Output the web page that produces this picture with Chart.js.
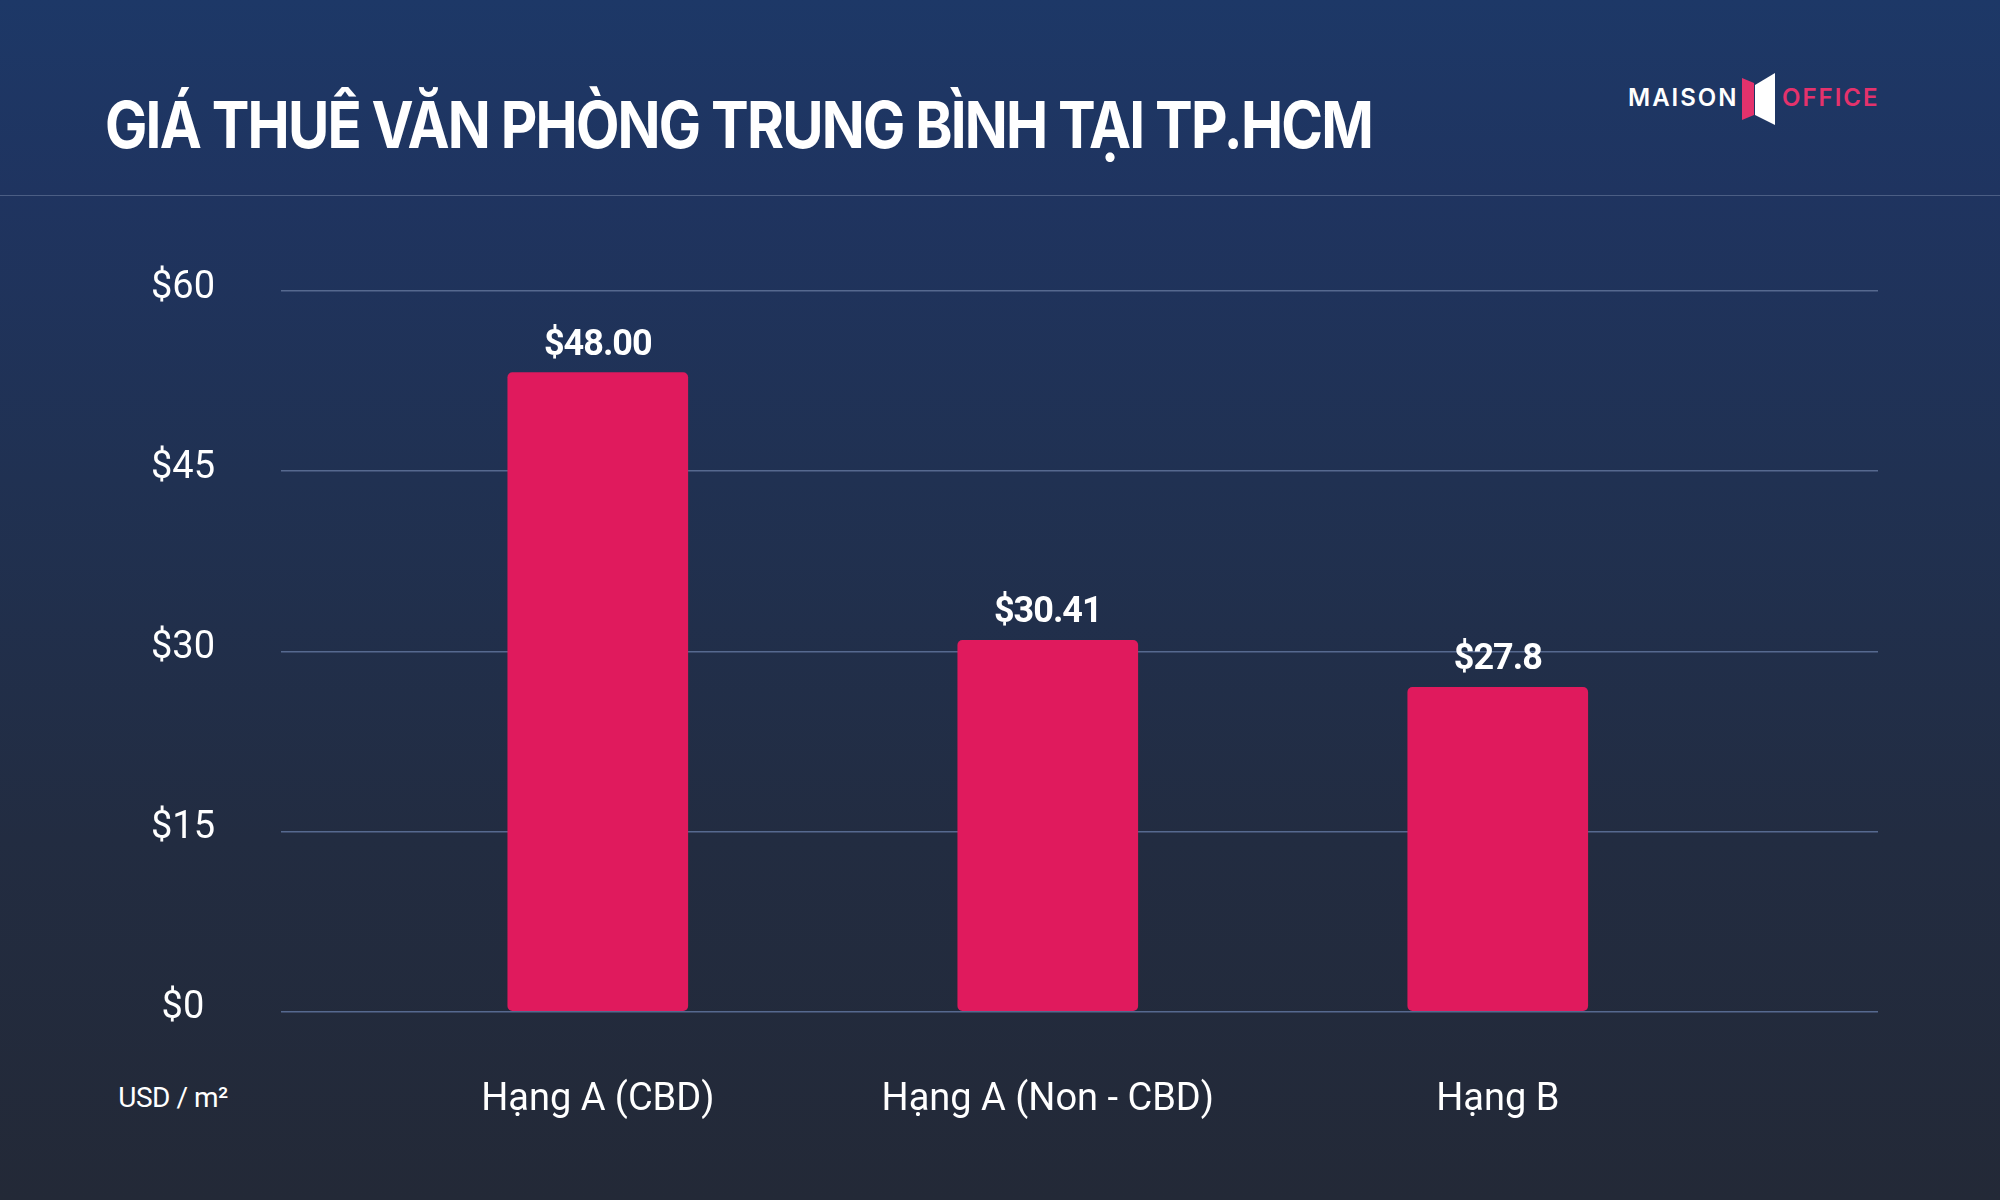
<!DOCTYPE html>
<html lang="vi">
<head>
<meta charset="utf-8">
<title>Giá thuê văn phòng trung bình tại TP.HCM</title>
<script src="https://cdn.jsdelivr.net/npm/chart.js@4.4.1/dist/chart.umd.min.js"></script>
<style>
    html, body { margin: 0; padding: 0; }
    body {
        width: 2000px;
        height: 1200px;
        overflow: hidden;
        position: relative;
        background: linear-gradient(180deg, #1d3867 0%, #1f3460 16%, #203152 40%, #222c41 70%, #232937 100%);
        font-family: Roboto, "Noto Sans", sans-serif;
        color: #fff;
    }
    .header-line { position: absolute; left: 0; top: 195px; width: 2000px; height: 1px; background: #4b5e84; }
    h1 {
        position: absolute;
        left: 105px;
        top: 93px;
        margin: 0;
        font: 700 64px/64px Inter, Roboto, sans-serif;
        letter-spacing: -2px;
        white-space: nowrap;
        transform-origin: 0 0;
    }
    .logo-text {
        position: absolute;
        top: 86px;
        font: 600 24px/24px Inter, Roboto, sans-serif;
        letter-spacing: 2px;
    }
    #logo-maison { left: 1628px; color: #ffffff; }
    #logo-office { left: 1782px; color: #e4326c; }
    #logo-icon { position: absolute; left: 0; top: 0; }
    .unit {
        position: absolute;
        left: 73px;
        width: 200px;
        top: 1084px;
        text-align: center;
        font: 400 28px/28px Roboto, sans-serif;
        letter-spacing: -0.5px;
    }
    #chart { position: absolute; left: 0; top: 0; }
</style>
</head>
<body>
<div class="header-line"></div>
<h1 id="title">GIÁ THUÊ VĂN PHÒNG TRUNG BÌNH TẠI TP.HCM</h1>
<div class="logo-text" id="logo-maison">MAISON</div>
<svg id="logo-icon" width="2000" height="200">
    <polygon points="1742,78 1754,83 1754,115 1742,120" fill="#e4326c"/>
    <polygon points="1755,85 1775,73 1775,125 1755,115" fill="#ffffff"/>
</svg>
<div class="logo-text" id="logo-office">OFFICE</div>
<div class="unit">USD / m²</div>
<canvas id="chart" width="2000" height="1200"></canvas>

<script>
// chart data
const categories = ['Hạng A (CBD)', 'Hạng A (Non - CBD)', 'Hạng B'];
const barValues = [53.2, 30.9, 27.0];
const valueLabels = ['$48.00', '$30.41', '$27.8'];
const yTicks = [0, 15, 30, 45, 60];

// squeeze title to the reference width
const title = document.getElementById('title');
title.style.transform = 'scaleX(' + (1267 / title.offsetWidth) + ')';

// value text above each bar
const valueLabelPlugin = {
    id: 'valueLabels',
    afterDatasetsDraw(chart) {
        const ctx = chart.ctx;
        const meta = chart.getDatasetMeta(0);
        ctx.save();
        ctx.fillStyle = '#ffffff';
        ctx.font = '700 36px Roboto';
        ctx.letterSpacing = '-1px';
        ctx.textAlign = 'center';
        ctx.textBaseline = 'middle';
        meta.data.forEach((bar, i) => {
            ctx.fillText(valueLabels[i], bar.x, bar.y - 27);
        });
        ctx.restore();
    }
};

new Chart(document.getElementById('chart'), {
    type: 'bar',
    data: {
        datasets: [{
            data: barValues.map((v, i) => ({ x: i, y: v })),
            backgroundColor: '#e01a5d',
            borderRadius: 5,
            borderSkipped: false,
            barThickness: 180
        }]
    },
    options: {
        responsive: false,
        animation: false,
        layout: { padding: { top: 291, right: 122, left: 0, bottom: 0 } },
        plugins: {
            legend: { display: false },
            tooltip: { enabled: false }
        },
        scales: {
            x: {
                type: 'linear',
                offset: false,
                min: -0.704,
                max: 2.845,
                grid: { display: false, drawTicks: false, offset: false },
                border: { display: false },
                afterFit: function(scale) { scale.height = 188.5; },
                afterBuildTicks: function(scale) {
                    scale.ticks = categories.map((c, i) => ({ value: i }));
                },
                ticks: {
                    color: '#ffffff',
                    font: { size: 38, family: 'Roboto' },
                    padding: 66,
                    autoSkip: false,
                    maxRotation: 0,
                    callback: function(value) { return categories[value] ?? ''; }
                }
            },
            y: {
                min: yTicks[0],
                max: yTicks[yTicks.length - 1],
                grid: { color: '#56698f', lineWidth: 1.5, drawTicks: false },
                border: { display: false },
                afterFit: function(scale) { scale.width = 281; },
                ticks: {
                    stepSize: yTicks[1] - yTicks[0],
                    color: '#ffffff',
                    font: { size: 38, family: 'Roboto' },
                    padding: 66,
                    crossAlign: 'center',
                    labelOffset: -3,
                    callback: function(value) { return '$' + value; }
                }
            }
        }
    },
    plugins: [valueLabelPlugin]
});
</script>
</body>
</html>
